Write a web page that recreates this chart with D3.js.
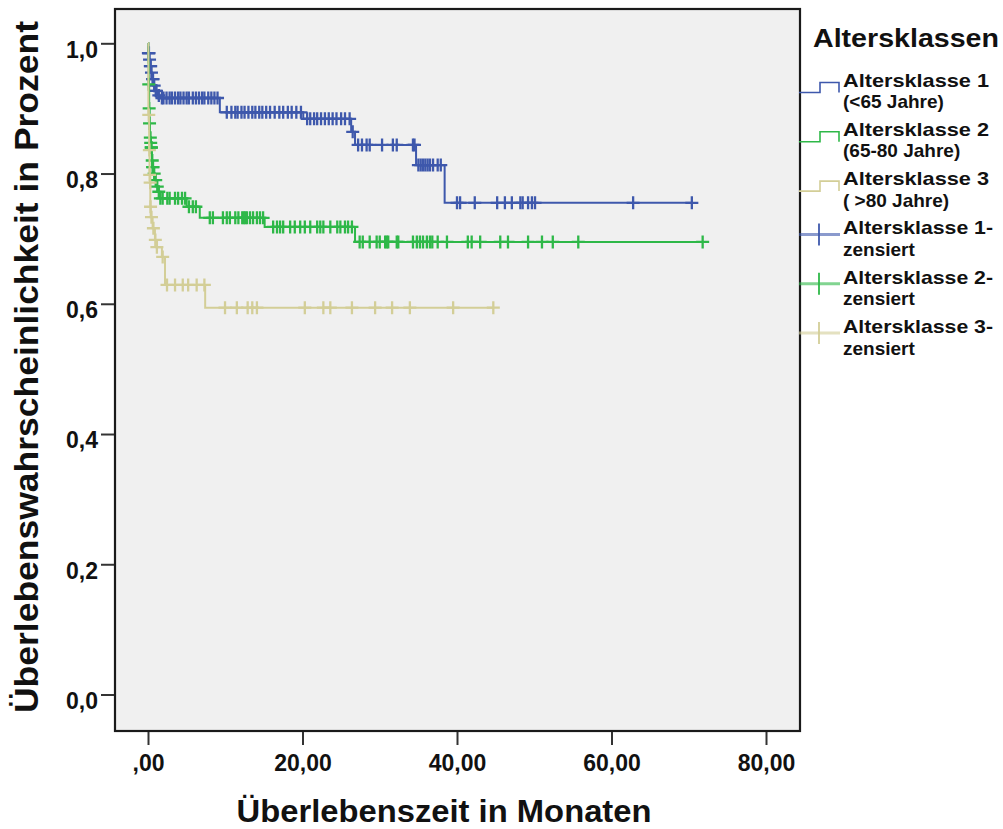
<!DOCTYPE html>
<html>
<head>
<meta charset="utf-8">
<script src="https://cdn.jsdelivr.net/npm/d3@7"></script>
<style>
    body { margin: 0; background: #ffffff; }
    text { font-family: "Liberation Sans", Arial, sans-serif; fill: #111111; }
</style>
</head>
<body>
<script>
//tick values and labels
var xTicks = [0, 20, 40, 60, 80];
var xTickLabels = [",00", "20,00", "40,00", "60,00", "80,00"];
var yTicks = [0, 0.2, 0.4, 0.6, 0.8, 1.0];
var yTickLabels = ["0,0", "0,2", "0,4", "0,6", "0,8", "1,0"];

//group names and colours
var groupNames = ["Altersklasse 1", "Altersklasse 2", "Altersklasse 3"];
var groupColors = ["#3e58ac", "#2eb848", "#d3ce97"];
var legendLabels = [
    ["Altersklasse 1", "(<65 Jahre)"],
    ["Altersklasse 2", "(65-80 Jahre)"],
    ["Altersklasse 3", "( >80 Jahre)"],
    ["Altersklasse 1-", "zensiert"],
    ["Altersklasse 2-", "zensiert"],
    ["Altersklasse 3-", "zensiert"]
];

//Altersklasse 1: step times (months), survival after each step, censored times
var blueTimes = [0, 0.05, 0.15, 0.25, 0.4, 0.5, 0.7, 0.9, 1.2, 1.6, 9.3, 20.1, 26.3, 26.8, 34.7, 38.4];
var blueSurv = [1.0, 0.985, 0.975, 0.965, 0.955, 0.945, 0.935, 0.927, 0.92, 0.916, 0.894, 0.884, 0.864, 0.844, 0.813, 0.755];
var blueEnd = 70.4;
var blueCensor = [0.05, 0.1, 0.12, 0.2, 0.3, 0.35, 0.45, 0.6, 0.65, 0.8, 1.0, 1.1, 1.4, 1.8,
    2.0, 2.4, 2.8, 3.1, 3.5, 3.9, 4.2, 4.6, 5.0, 5.3, 5.8, 6.2, 6.6, 7.0, 7.3, 7.8, 8.2, 8.6, 9.0,
    10.2, 10.8, 11.3, 11.6, 12.1, 12.5, 13.0, 13.5, 13.9, 14.4, 14.8, 15.3, 15.8, 16.4, 17.0, 17.5, 18.1, 18.6, 19.2, 19.8,
    20.6, 21.0, 21.5, 21.9, 22.4, 22.9, 23.4, 23.9, 24.4, 25.0, 25.5, 26.1,
    26.5, 27.2, 27.7, 28.3, 28.7, 30.3, 31.7, 32.2, 34.3, 34.5,
    35.0, 35.3, 35.6, 35.9, 36.2, 36.5, 36.9, 37.5, 37.9,
    40.0, 40.4, 42.3, 45.2, 46.2, 47.1, 48.2, 48.5, 49.2, 49.7, 50.1, 62.8, 70.4];

//Altersklasse 2
var greenTimes = [0, 0.05, 0.1, 0.15, 0.2, 0.25, 0.3, 0.35, 0.4, 0.5, 0.6, 0.7, 0.9, 1.1, 1.3, 1.6, 5.0, 6.7, 15.1, 26.8];
var greenSurv = [1.0, 0.97, 0.937, 0.90, 0.877, 0.863, 0.855, 0.847, 0.84, 0.82, 0.81, 0.80, 0.79, 0.78, 0.772, 0.762, 0.749, 0.732, 0.718, 0.695];
var greenEnd = 71.8;
var greenCensor = [0.1, 0.15, 0.2, 0.3, 0.35, 0.4, 0.45, 0.55, 0.6, 0.65, 0.8, 1.0, 1.2, 1.4,
    1.6, 1.9, 2.5, 2.8, 3.5, 3.9, 4.4, 4.8, 5.3, 5.8, 6.2,
    8.0, 8.4, 9.7, 10.2, 10.6, 11.3, 11.7, 12.2, 12.4, 12.6, 12.8, 13.2, 13.6, 14.1, 14.5, 14.9,
    16.2, 16.7, 17.1, 17.5, 18.4, 19.0, 19.7, 20.3, 21.0, 21.9, 22.3, 22.7, 23.6, 24.5, 24.9, 25.5, 25.9, 26.4,
    27.4, 27.8, 28.7, 29.6, 30.0, 30.7, 30.9, 31.1, 32.2, 32.4, 34.3, 34.8, 35.2, 35.6, 36.1, 36.5, 36.8, 37.5, 38.7,
    41.4, 41.9, 43.0, 45.6, 46.6, 49.2, 51.0, 52.4, 55.7, 71.8];

//Altersklasse 3
var tanTimes = [0, 0.05, 0.15, 0.2, 0.25, 0.3, 0.35, 0.6, 0.9, 1.1, 1.8, 2.2, 7.4];
var tanSurv = [1.0, 0.89, 0.836, 0.798, 0.786, 0.749, 0.733, 0.716, 0.698, 0.687, 0.672, 0.629, 0.594];
var tanEnd = 44.7;
var tanCensor = [0.1, 0.18, 0.22, 0.28, 0.33, 0.45, 0.7, 0.95, 1.15, 1.9,
    2.46, 3.5, 4.5, 5.2, 6.3, 7.3,
    9.97, 11.5, 12.9, 13.5, 14.1, 20.3, 22.7, 23.6, 26.4, 29.4, 31.6, 33.9, 39.5, 44.7];

window.onload = setChart();

function setChart(){

    var width = 1003,
        height = 829;

    //plot frame
    var frame = {left: 115, top: 9, right: 800, bottom: 731};

    var svg = d3.select("body")
        .append("svg")
        .attr("width", width)
        .attr("height", height);

    var x = d3.scaleLinear()
        .domain([0, 80])
        .range([148, 766]);

    var y = d3.scaleLinear()
        .domain([0, 1])
        .range([694.5, 43.3]);

    //grey plot background
    svg.append("rect")
        .attr("x", frame.left)
        .attr("y", frame.top)
        .attr("width", frame.right - frame.left)
        .attr("height", frame.bottom - frame.top)
        .attr("fill", "#f0f0f0")
        .attr("stroke", "#1a1a1a")
        .attr("stroke-width", 2.2);

    //x axis
    var xAxis = svg.append("g")
        .attr("transform", "translate(0," + (frame.bottom + 1) + ")")
        .call(d3.axisBottom(x)
            .tickValues(xTicks)
            .tickFormat(function(d, i){ return xTickLabels[i]; })
            .tickSize(13)
            .tickPadding(10));
    xAxis.select(".domain").remove();
    xAxis.selectAll("line").attr("stroke", "#333333").attr("stroke-width", 2);
    xAxis.selectAll("text")
        .attr("font-size", 23)
        .attr("font-weight", "bold")
        .style("font-family", "'Liberation Sans', Arial, sans-serif")
        .attr("fill", "#111111");

    //y axis
    var yAxis = svg.append("g")
        .attr("transform", "translate(" + (frame.left - 1) + ",0)")
        .call(d3.axisLeft(y)
            .tickValues(yTicks)
            .tickFormat(function(d, i){ return yTickLabels[i]; })
            .tickSize(13)
            .tickPadding(3));
    yAxis.select(".domain").remove();
    yAxis.selectAll("line").attr("stroke", "#333333").attr("stroke-width", 2);
    yAxis.selectAll("text")
        .attr("font-size", 23)
        .attr("font-weight", "bold")
        .attr("dy", "0.6em")
        .style("font-family", "'Liberation Sans', Arial, sans-serif")
        .attr("fill", "#111111");

    //axis titles
    svg.append("text")
        .attr("x", 444)
        .attr("y", 822)
        .attr("text-anchor", "middle")
        .attr("font-size", 32)
        .attr("font-weight", "bold")
        .attr("textLength", 415)
        .attr("lengthAdjust", "spacingAndGlyphs")
        .text("Überlebenszeit in Monaten");

    svg.append("text")
        .attr("transform", "translate(38,367) rotate(-90)")
        .attr("text-anchor", "middle")
        .attr("font-size", 34)
        .attr("font-weight", "bold")
        .attr("textLength", 692)
        .attr("lengthAdjust", "spacingAndGlyphs")
        .text("Überlebenswahrscheinlichkeit in Prozent");

    //survival curves
    var groups = [
        {times: blueTimes, surv: blueSurv, end: blueEnd, censor: blueCensor, color: groupColors[0]},
        {times: greenTimes, surv: greenSurv, end: greenEnd, censor: greenCensor, color: groupColors[1]},
        {times: tanTimes, surv: tanSurv, end: tanEnd, censor: tanCensor, color: groupColors[2]}
    ];

    var line = d3.line()
        .x(function(d){ return x(d[0]); })
        .y(function(d){ return y(d[1]); })
        .curve(d3.curveStepAfter);

    //survival value at time t
    function survAt(g, t){
        var i = d3.bisectRight(g.times, t) - 1;
        return g.surv[Math.max(0, i)];
    }

    var plot = svg.append("g");

    groups.forEach(function(g){
        var pts = g.times.map(function(t, i){ return [t, g.surv[i]]; });
        pts.push([g.end, g.surv[g.surv.length - 1]]);

        plot.append("path")
            .datum(pts)
            .attr("d", line)
            .attr("fill", "none")
            .attr("stroke", g.color)
            .attr("stroke-width", 2);

        //censoring marks as small crosses
        plot.selectAll(null)
            .data(g.censor)
            .enter()
            .append("path")
            .attr("d", function(t){
                var cx = x(t), cy = y(survAt(g, t));
                return "M" + (cx - 6.5) + "," + cy + "H" + (cx + 6.5) +
                    "M" + cx + "," + (cy - 6.5) + "V" + (cy + 6.5);
            })
            .attr("stroke", g.color)
            .attr("stroke-width", 2.3);
    });

    //legend
    var legend = svg.append("g");

    legend.append("text")
        .attr("x", 813)
        .attr("y", 47)
        .attr("font-size", 25)
        .attr("font-weight", "bold")
        .attr("textLength", 186)
        .attr("lengthAdjust", "spacingAndGlyphs")
        .text("Altersklassen");

    legendLabels.forEach(function(lab, i){
        var base = 88 + i * 49.3;

        if (i < 3){
            //step symbol for the curve
            legend.append("path")
                .attr("d", "M799," + (base + 4.5) + "H820V" + (base - 5.5) + "H839V" + (base + 4.5))
                .attr("fill", "none")
                .attr("stroke", groupColors[i])
                .attr("stroke-width", 1.6);
        } else {
            //line with censor tick
            legend.append("path")
                .attr("d", "M799," + (base - 1.5) + "H840")
                .attr("stroke", groupColors[i - 3])
                .attr("stroke-width", 3)
                .attr("opacity", 0.6);
            legend.append("path")
                .attr("d", "M819," + (base - 12.5) + "V" + (base + 9.5))
                .attr("stroke", groupColors[i - 3])
                .attr("stroke-width", 1.8);
        }

        //two lines of label text
        legend.append("text")
            .attr("x", 843)
            .attr("y", base - 1.5)
            .attr("font-size", 19)
            .attr("font-weight", "bold")
            .attr("textLength", lab[0].length > 14 ? 150 : 146)
            .attr("lengthAdjust", "spacingAndGlyphs")
            .text(lab[0]);
        legend.append("text")
            .attr("x", 843)
            .attr("y", base + 20)
            .attr("font-size", 19)
            .attr("font-weight", "bold")
            .text(lab[1]);
    });
}
</script>
</body>
</html>
